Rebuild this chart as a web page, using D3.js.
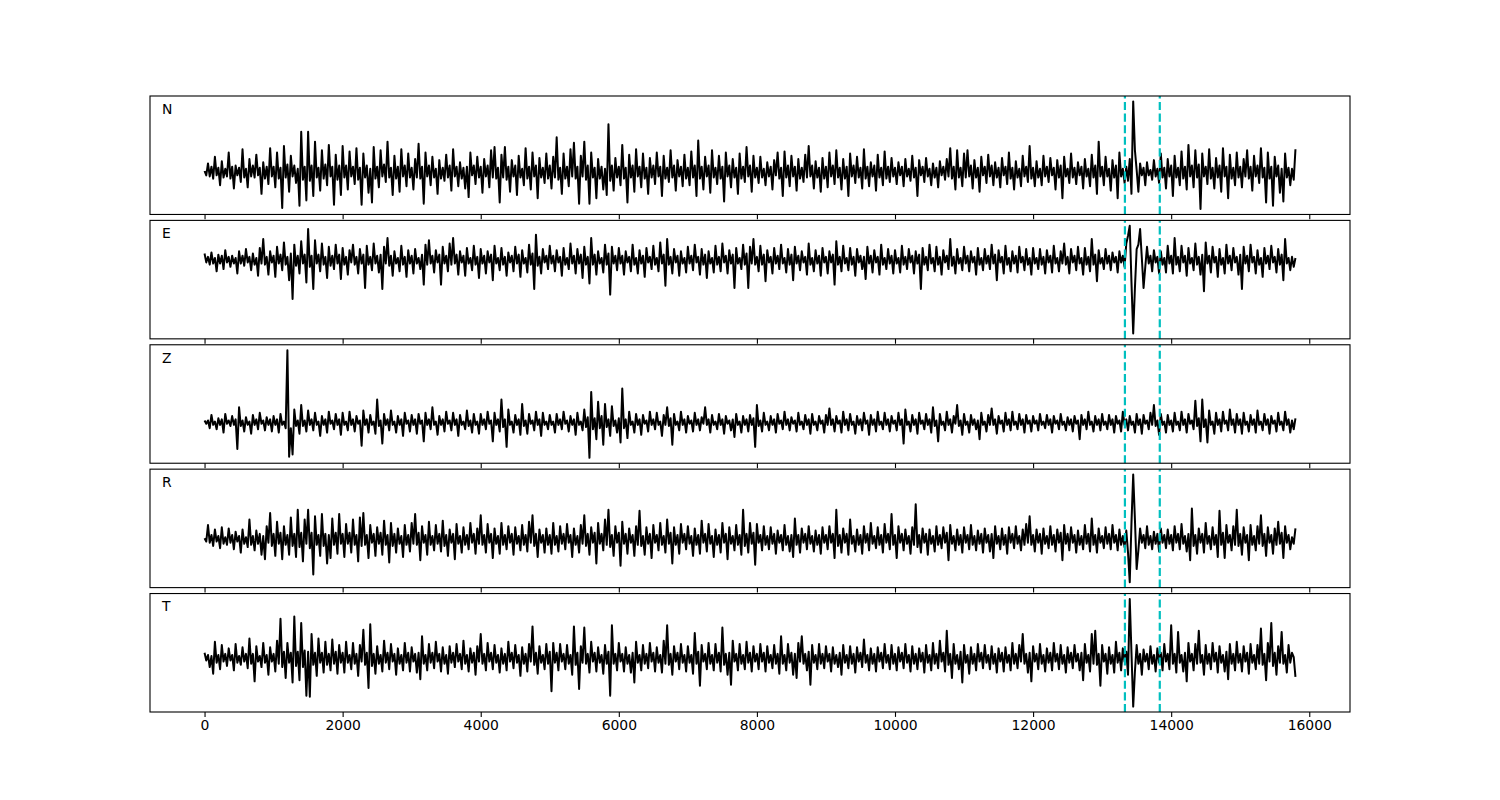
<!DOCTYPE html>
<html>
<head>
<meta charset="utf-8">
<script src="https://cdn.jsdelivr.net/npm/d3@7"></script>
<style>
  body { margin: 0; background: #fff; }
  svg { display: block; font-family: "DejaVu Sans", sans-serif; }
</style>
</head>
<body>
<svg id="svg2" width="1500" height="800"></svg>
<script>
// samples every 25 units, t = 0 .. 15800 (one row per 1000 units)
var step = 25;
var components = ["N", "E", "Z", "R", "T"];
var markers = [13330, 13835];
var xTicks = [0, 2000, 4000, 6000, 8000, 10000, 12000, 14000, 16000];

var traceN = [
  1, -3, 8, -4, 5, -6, 14, -3, 4, -12, 10, -5, 3, -4, 18, -6, 5, -15, 6, -3, 4, -9, 21, -5, 3, -14, 12, -4, 6, -5, 16, -3, 4, -20, 9, -6, 5, -11, 22, -4,
  5, -14, 18, -6, 4, -33, 24, -5, 7, -18, 15, -4, 6, -10, 3, -31, 37, -7, 5, -26, 37, -8, 6, -22, 28, -5, 4, -17, 20, -6, 7, -12, 25, -4, 5, -30, 16, -7, 6, -21,
  24, -5, 6, -16, 19, -4, 5, -11, 22, -7, 4, -30, 17, -5, 6, -19, 3, -28, 23, -6, 5, -14, 20, -4, 7, -9, 28, -5, 4, -21, 15, -6, 5, -18, 21, -4, 6, -13, 17, -5,
  4, -16, 12, -5, 26, -6, 5, -29, 18, -4, 6, -12, 14, -5, 3, -20, 11, -6, 4, -8, 16, -5, 6, -17, 21, -4, 5, -13, 9, -6, 4, -15, 5, -23, 18, -3, 6, -11, 14, -5,
  5, -19, 12, -4, 6, -14, 20, -5, 23, -6, 4, -28, 16, -5, 23, -7, 5, -18, 11, -4, 6, -21, 15, -5, 3, -12, 22, -6, 5, -16, 18, -4, 6, -24, 13, -5, 4, -10, 17, -6,
  6, -15, 14, -5, 32, -7, 4, -20, 17, -6, 5, -13, 21, -4, 27, -6, 5, -29, 15, -4, 28, -7, 6, -29, 18, -5, 4, -24, 12, -6, 5, -16, 3, -21, 44, -8, 6, -17, 13, -5,
  5, -12, 25, -6, 4, -28, 16, -5, 6, -18, 21, -4, 5, -14, 17, -6, 4, -20, 13, -5, 6, -11, 18, -4, 5, -22, 15, -6, 4, -9, 20, -5, 6, -17, 11, -4, 5, -13, 16, -6,
  4, -12, 19, -5, 6, -22, 29, -6, 5, -16, 14, -4, 6, -19, 20, -5, 4, -11, 15, -6, 5, -27, 18, -4, 6, -14, 12, -5, 4, -20, 17, -6, 5, -9, 23, -4, 6, -18, 15, -5,
  4, -10, 14, -5, 3, -12, 9, -4, 5, -16, 11, -3, 18, -6, 4, -22, 19, -5, 6, -13, 15, -4, 5, -17, 12, -6, 4, -9, 16, -5, 24, -4, 6, -15, 10, -5, 4, -18, 13, -6,
  5, -14, 18, -4, 6, -11, 20, -5, 4, -16, 12, -6, 5, -22, 17, -4, 6, -10, 14, -5, 4, -15, 21, -6, 5, -13, 9, -4, 6, -17, 16, -5, 4, -12, 19, -6, 5, -9, 13, -4,
  4, -11, 9, -3, 5, -13, 12, -4, 3, -8, 15, -5, 4, -22, 11, -3, 5, -9, 13, -4, 3, -12, 8, -5, 4, -14, 10, -3, 5, -7, 12, -4, 22, -6, 5, -16, 20, -5, 4, -13,
  17, -5, 20, -4, 6, -15, 11, -5, 4, -18, 14, -3, 5, -10, 16, -4, 6, -12, 9, -5, 4, -14, 13, -3, 5, -11, 18, -6, 4, -16, 10, -5, 3, -13, 15, -4, 5, -9, 24, -6,
  4, -13, 10, -5, 3, -12, 15, -4, 5, -9, 13, -3, 4, -16, 11, -5, 6, -24, 14, -4, 3, -10, 17, -5, 4, -11, 9, -3, 5, -15, 12, -4, 3, -13, 16, -5, 6, -20, 28, -4,
  5, -12, 14, -4, 3, -17, 11, -5, 6, -24, 18, -4, 3, -10, 5, -8, 12, -20, 65, 20, 2, -18, 8, -3, 4, -12, 9, -3, 2, -7, 11, -4, 3, -10, 17, -5, 4, -15, 12, -4,
  6, -22, 15, -5, 4, -12, 19, -6, 5, -16, 25, -4, 6, -14, 20, -5, 7, -34, 17, -4, 5, -11, 21, -6, 4, -15, 13, -5, 6, -18, 22, -4, 5, -24, 16, -6, 4, -12, 18, -5,
  5, -14, 12, -4, 20, -6, 5, -17, 15, -4, 6, -10, 22, -5, 4, -28, 18, -6, 5, -31, 14, -4, 6, -19, 3, -27, 17, -5, 4, -12, 3, -7, 21
];

var traceE = [
  6, -2, 3, -4, 7, -3, 2, -10, 5, -3, 4, -8, 9, -2, 3, -6, 4, -3, 2, -12, 8, -3, 4, -5, 10, -2, 3, -9, 6, -4, 2, -14, 11, -3, 19, -4, 3, -13, 8, -2,
  4, -15, 12, -3, 5, -9, 16, -4, 3, -18, 6, -35, 14, -5, 4, -12, 17, -3, 5, -20, 28, -6, 4, -26, 18, -3, 5, -10, 15, -4, 3, -16, 12, -5, 4, -8, 14, -3, 5, -17,
  11, -4, 3, -13, 9, -2, 14, -4, 3, -12, 10, -3, 5, -25, 13, -4, 3, -9, 15, -3, 4, -11, 5, -26, 12, -3, 20, -5, 4, -14, 8, -3, 2, -10, 13, -4, 3, -15, 9, -3,
  4, -12, 10, -3, 2, -8, 5, -22, 14, -4, 18, -3, 4, -11, 9, -2, 5, -22, 12, -3, 4, -10, 15, -4, 20, -3, 5, -13, 8, -2, 4, -14, 11, -3, 2, -9, 13, -4, 3, -16,
  10, -3, 4, -12, 8, -2, 5, -18, 13, -3, 2, -9, 11, -4, 3, -14, 7, -2, 4, -10, 12, -3, 5, -15, 9, -3, 2, -11, 14, -4, 6, -26, 23, -5, 3, -12, 10, -2, 4, -8,
  13, -3, 4, -10, 9, -2, 3, -14, 11, -4, 2, -8, 15, -3, 4, -12, 10, -3, 5, -16, 12, -4, 3, -21, 20, -4, 5, -13, 8, -3, 2, -11, 14, -4, 6, -31, 12, -3, 4, -9,
  11, -3, 4, -13, 8, -2, 3, -10, 14, -4, 2, -12, 9, -3, 4, -15, 11, -2, 3, -8, 13, -4, 2, -10, 16, -3, 5, -23, 19, -4, 3, -12, 10, -2, 4, -14, 8, -3, 2, -11,
  12, -3, 4, -9, 14, -2, 3, -13, 10, -4, 5, -16, 8, -3, 2, -11, 13, -4, 3, -10, 15, -2, 4, -12, 9, -3, 5, -25, 11, -3, 2, -8, 14, -4, 6, -25, 12, -3, 19, -4,
  3, -10, 13, -4, 5, -19, 9, -2, 3, -12, 11, -3, 4, -8, 14, -3, 2, -11, 10, -4, 5, -18, 12, -3, 4, -9, 8, -2, 3, -13, 15, -4, 2, -10, 9, -3, 4, -14, 11, -2,
  3, -12, 8, -2, 5, -22, 17, -4, 3, -10, 13, -3, 2, -9, 11, -4, 3, -14, 10, -2, 4, -8, 3, -17, 12, -3, 4, -11, 9, -2, 3, -13, 14, -4, 2, -8, 10, -3, 4, -12,
  9, -3, 2, -11, 13, -4, 3, -8, 10, -2, 4, -12, 8, -3, 5, -26, 11, -4, 3, -9, 14, -3, 2, -10, 12, -4, 3, -13, 9, -2, 4, -8, 19, -5, 3, -12, 10, -3, 2, -9,
  12, -3, 4, -10, 8, -2, 3, -13, 11, -4, 2, -9, 10, -3, 4, -8, 14, -3, 5, -18, 9, -2, 3, -12, 13, -4, 2, -10, 8, -3, 4, -11, 12, -2, 3, -9, 10, -4, 2, -13,
  11, -3, 2, -8, 10, -4, 3, -12, 9, -2, 4, -11, 13, -3, 2, -10, 8, -3, 15, -4, 3, -12, 10, -2, 4, -9, 12, -3, 2, -13, 11, -4, 3, -10, 19, -4, 5, -19, 9, -3,
  2, -8, 10, -3, 4, -9, 7, -2, 3, -11, 8, -2, 4, -6, 15, 22, 31, -20, -66, -25, 10, 14, 28, 2, -25, -6, 12, -3, 4, -10, 9, -2, 3, -12, 8, -4, 2, -11, 13, -3,
  4, -12, 20, -4, 3, -10, 13, -2, 4, -14, 11, -3, 2, -9, 15, -4, 3, -13, 5, -28, 16, -3, 4, -11, 12, -2, 3, -15, 10, -4, 2, -12, 14, -3, 4, -9, 11, -2, 3, -13,
  5, -26, 12, -3, 4, -10, 14, -2, 3, -12, 9, -4, 2, -15, 11, -3, 4, -8, 13, -2, 3, -11, 10, -4, 5, -18, 19, -3, 2, -9, 3, -6, 2
];

var traceZ = [
  2, -1, 2, -5, 7, -2, 1, -6, 4, -2, 3, -9, 8, -1, 2, -3, 6, -2, 3, -24, 14, -3, 2, -8, 5, -2, 1, -10, 7, -2, 3, -6, 9, -1, 2, -7, 5, -2, 3, -8,
  6, -2, 3, -9, 8, -2, 1, -5, 66, -31, -5, -29, 12, -3, 2, -10, 16, -3, 2, -8, 11, -2, 3, -7, 9, -2, 1, -12, 6, -2, 3, -9, 10, -1, 2, -6, 8, -2, 3, -11,
  9, -2, 1, -7, 10, -2, 3, -8, 6, -1, 2, -21, 11, -2, 3, -9, 7, -2, 1, -10, 21, -3, 2, -19, 8, -2, 3, -7, 11, -2, 1, -9, 6, -2, 3, -12, 9, -1, 2, -8,
  7, -2, 3, -10, 8, -1, 2, -17, 9, -2, 3, -6, 14, -2, 1, -11, 6, -2, 3, -8, 10, -1, 2, -7, 9, -2, 3, -12, 7, -2, 1, -6, 11, -3, 2, -9, 8, -2, 1, -10,
  8, -2, 3, -6, 10, -1, 2, -17, 9, -2, 3, -8, 21, -4, 3, -22, 12, -2, 1, -9, 7, -2, 3, -11, 17, -3, 2, -10, 8, -1, 2, -7, 10, -2, 3, -12, 9, -2, 1, -6,
  7, -2, 1, -9, 8, -2, 3, -6, 10, -1, 2, -8, 6, -2, 3, -11, 9, -2, 1, -7, 12, -4, 5, -32, 28, -6, 4, -15, 19, -5, 6, -20, 17, -4, 3, -12, 15, -3, 2, -9,
  4, -18, 31, -5, 3, -14, 10, -2, 1, -9, 8, -2, 3, -11, 7, -1, 2, -8, 10, -2, 3, -6, 9, -2, 1, -12, 7, -2, 14, -3, 4, -20, 8, -2, 1, -7, 10, -2, 3, -9,
  6, -1, 2, -8, 9, -2, 3, -7, 5, -1, 14, -2, 3, -9, 7, -2, 1, -6, 8, -2, 3, -10, 6, -1, 2, -7, 3, -13, 8, -2, 1, -9, 6, -2, 3, -8, 7, -2, 4, -22,
  16, -3, 2, -8, 9, -2, 1, -7, 6, -2, 3, -9, 8, -1, 2, -6, 10, -2, 3, -7, 5, -1, 2, -8, 9, -2, 1, -6, 7, -2, 3, -10, 8, -2, 1, -7, 6, -1, 2, -9,
  7, -2, 13, -2, 3, -8, 6, -1, 2, -9, 10, -2, 3, -7, 8, -2, 1, -10, 6, -2, 3, -7, 9, -1, 2, -11, 7, -2, 3, -8, 10, -2, 1, -6, 9, -2, 3, -8, 6, -1,
  2, -7, 9, -2, 3, -19, 12, -2, 1, -8, 7, -2, 3, -10, 9, -1, 2, -6, 8, -2, 3, -9, 14, -3, 2, -17, 8, -2, 1, -7, 10, -2, 3, -9, 6, -1, 16, -3, 2, -11,
  8, -2, 1, -9, 7, -2, 3, -6, 2, -15, 9, -2, 1, -8, 7, -2, 13, -2, 3, -10, 6, -1, 2, -8, 9, -2, 3, -7, 10, -2, 1, -6, 8, -2, 3, -9, 7, -1, 2, -8,
  6, -1, 2, -7, 8, -2, 1, -5, 7, -2, 3, -9, 6, -1, 2, -6, 8, -2, 1, -7, 5, -2, 3, -8, 6, -1, 2, -15, 7, -2, 3, -6, 10, -2, 1, -8, 6, -2, 3, -7,
  8, -2, 1, -6, 7, -2, 3, -9, 6, -1, 2, -8, 10, -2, 3, -7, 6, -2, 1, -9, 8, -2, 3, -10, 7, -1, 2, -6, 9, -2, 16, -3, 2, -11, 8, -2, 1, -9, 7, -2,
  2, -8, 9, -2, 1, -7, 10, -2, 3, -9, 8, -1, 2, -6, 20, -3, 4, -17, 21, -4, 3, -18, 11, -2, 1, -10, 9, -2, 3, -8, 10, -1, 2, -7, 12, -2, 3, -9, 8, -2,
  3, -10, 9, -2, 1, -8, 7, -2, 3, -9, 11, -2, 1, -7, 8, -2, 3, -10, 6, -1, 2, -8, 9, -2, 1, -7, 10, -2, 3, -9, 2, -6, 4
];

var traceR = [
  1, -2, 13, -3, 4, -6, 9, -2, 3, -8, 11, -4, 2, -5, 10, -3, 4, -9, 7, -2, 3, -12, 9, -4, 2, -7, 18, -5, 3, -10, 8, -4, 5, -14, 3, -18, 12, -3, 24, -6,
  5, -15, 16, -4, 6, -18, 12, -5, 4, -14, 20, -6, 5, -16, 27, -7, 6, -20, 18, -4, 27, -8, 6, -32, 21, -5, 4, -15, 23, -6, 5, -22, 4, -17, 19, -5, 6, -13, 23, -4,
  5, -16, 14, -4, 6, -12, 18, -5, 4, -20, 20, -6, 24, -5, 4, -17, 13, -3, 5, -15, 11, -4, 6, -14, 17, -5, 4, -21, 15, -6, 5, -12, 10, -4, 3, -16, 13, -5, 4, -11,
  15, -4, 23, -5, 6, -19, 12, -3, 4, -14, 16, -5, 3, -10, 13, -4, 5, -11, 17, -6, 4, -15, 9, -3, 5, -18, 14, -4, 3, -12, 11, -5, 4, -9, 15, -3, 5, -13, 10, -4,
  22, -5, 4, -12, 14, -3, 5, -17, 10, -4, 3, -13, 15, -5, 4, -9, 12, -3, 5, -14, 11, -4, 3, -10, 13, -5, 4, -11, 16, -3, 22, -6, 5, -16, 9, -3, 4, -12, 10, -5,
  4, -13, 15, -5, 3, -11, 12, -4, 5, -9, 14, -3, 4, -16, 10, -5, 3, -12, 13, -4, 22, -6, 5, -14, 11, -3, 6, -22, 15, -4, 5, -10, 18, -5, 27, -7, 4, -15, 12, -3,
  6, -24, 16, -4, 5, -13, 10, -3, 4, -15, 12, -5, 26, -6, 3, -14, 11, -4, 5, -17, 13, -3, 4, -10, 15, -5, 3, -12, 18, -4, 6, -22, 11, -5, 4, -13, 14, -3, 5, -9,
  12, -4, 3, -15, 10, -5, 4, -13, 17, -3, 5, -11, 14, -4, 3, -16, 9, -5, 4, -12, 15, -3, 5, -18, 11, -4, 3, -10, 13, -5, 4, -14, 27, -6, 5, -12, 15, -4, 6, -23,
  14, -3, 4, -10, 12, -5, 3, -9, 11, -4, 5, -13, 8, -3, 4, -10, 13, -5, 3, -11, 4, -16, 19, -5, 4, -12, 10, -3, 5, -9, 12, -4, 3, -11, 8, -5, 4, -13, 11, -3,
  4, -9, 12, -3, 5, -17, 27, -6, 4, -12, 10, -3, 5, -14, 18, -4, 3, -11, 9, -5, 4, -13, 12, -3, 5, -10, 15, -4, 3, -8, 11, -5, 4, -12, 14, -3, 5, -9, 23, -5,
  4, -17, 12, -3, 5, -10, 9, -4, 3, -13, 11, -5, 32, -7, 4, -12, 10, -3, 5, -14, 9, -4, 3, -11, 12, -5, 4, -8, 11, -3, 6, -19, 13, -4, 3, -10, 9, -5, 4, -12,
  11, -3, 4, -9, 13, -5, 3, -10, 8, -4, 5, -12, 10, -3, 4, -11, 5, -17, 12, -4, 3, -9, 10, -5, 4, -13, 11, -3, 5, -8, 12, -4, 3, -10, 9, -5, 14, -3, 21, -5,
  4, -11, 9, -3, 5, -13, 10, -4, 3, -8, 12, -5, 4, -11, 9, -3, 6, -19, 13, -4, 5, -10, 11, -3, 4, -12, 8, -5, 3, -9, 13, -4, 5, -11, 19, -5, 4, -12, 10, -3,
  3, -8, 11, -4, 5, -9, 13, -3, 4, -10, 9, -5, 3, -7, 8, -12, -39, 15, 59, 18, -27, -10, 10, -3, 4, -8, 12, -5, 3, -9, 7, -4, 5, -11, 10, -3, 4, -8, 9, -4,
  4, -10, 12, -3, 5, -9, 14, -4, 3, -11, 5, -19, 28, -6, 4, -13, 10, -3, 5, -12, 15, -4, 3, -9, 11, -5, 4, -16, 26, -5, 6, -17, 13, -3, 4, -10, 12, -5, 27, -6,
  5, -14, 11, -3, 4, -19, 13, -5, 3, -10, 12, -4, 22, -6, 5, -15, 11, -3, 4, -13, 10, -5, 16, -4, 6, -17, 12, -3, 4, -9, 2, -4, 10
];

var traceT = [
  5, -2, 3, -8, 2, -14, 15, -4, 3, -10, 12, -3, 4, -7, 9, -2, 3, -11, 13, -4, 2, -6, 10, -3, 4, -9, 18, -5, 4, -21, 11, -3, 2, -8, 14, -4, 3, -15, 10, -3,
  4, -12, 16, -5, 36, -8, 6, -18, 14, -4, 5, -22, 38, -7, 6, -20, 32, -8, 7, -34, 6, -35, 22, -6, 5, -16, 18, -4, 5, -13, 15, -6, 4, -11, 17, -5, 6, -14, 12, -4,
  5, -13, 15, -4, 3, -10, 14, -5, 4, -16, 12, -3, 26, -6, 5, -27, 31, -7, 4, -14, 11, -5, 3, -12, 16, -4, 5, -10, 13, -3, 4, -15, 9, -5, 3, -11, 14, -4, 5, -12,
  10, -3, 4, -13, 5, -19, 20, -5, 3, -11, 13, -4, 5, -9, 15, -3, 4, -12, 10, -5, 3, -14, 11, -4, 5, -8, 13, -3, 4, -10, 16, -5, 3, -12, 9, -4, 5, -15, 11, -3,
  22, -5, 4, -11, 14, -3, 5, -10, 12, -4, 3, -13, 9, -5, 4, -11, 15, -3, 5, -9, 12, -4, 3, -16, 10, -5, 4, -12, 13, -3, 29, -6, 5, -14, 11, -4, 3, -10, 13, -5,
  6, -30, 14, -4, 5, -11, 13, -3, 4, -10, 12, -5, 3, -15, 29, -6, 5, -28, 11, -4, 28, -5, 4, -13, 15, -3, 5, -12, 10, -4, 3, -14, 12, -5, 6, -34, 30, -5, 4, -11,
  14, -3, 4, -12, 10, -5, 3, -13, 5, -22, 15, -4, 3, -11, 12, -5, 4, -9, 14, -3, 5, -12, 10, -4, 3, -13, 16, -5, 30, -6, 4, -15, 11, -3, 5, -10, 13, -4, 3, -12,
  11, -4, 3, -14, 23, -5, 6, -25, 12, -3, 4, -10, 14, -5, 3, -11, 13, -4, 5, -12, 28, -6, 4, -15, 5, -24, 16, -3, 4, -11, 13, -5, 3, -10, 15, -4, 5, -12, 11, -3,
  4, -10, 13, -3, 5, -12, 11, -4, 3, -9, 12, -5, 4, -14, 20, -5, 3, -11, 13, -4, 5, -15, 4, -18, 14, -3, 20, -5, 4, -11, 6, -24, 12, -4, 3, -10, 13, -5, 4, -9,
  11, -3, 4, -12, 10, -5, 3, -8, 5, -15, 12, -4, 3, -9, 11, -5, 4, -13, 10, -3, 5, -8, 17, -4, 3, -11, 9, -5, 4, -12, 10, -3, 5, -9, 13, -4, 3, -10, 12, -5,
  4, -11, 10, -3, 5, -9, 13, -4, 3, -12, 11, -5, 4, -10, 9, -3, 5, -13, 12, -4, 3, -11, 14, -5, 4, -9, 16, -3, 5, -12, 25, -6, 4, -18, 13, -5, 3, -10, 6, -22,
  12, -4, 3, -14, 10, -5, 4, -11, 13, -3, 5, -9, 12, -4, 3, -10, 11, -5, 4, -13, 9, -3, 5, -12, 10, -4, 3, -11, 14, -5, 4, -9, 12, -3, 22, -5, 4, -13, 5, -21,
  11, -3, 4, -10, 13, -5, 3, -12, 9, -4, 5, -11, 14, -3, 4, -10, 12, -5, 3, -13, 10, -4, 5, -9, 12, -3, 4, -11, 5, -20, 13, -4, 3, -12, 22, -5, 25, -6, 4, -25,
  12, -3, 4, -14, 10, -5, 3, -13, 15, -4, 5, -11, 9, -3, 6, -15, 54, 5, -44, -12, 12, -5, 4, -15, 8, -3, 4, -10, 11, -5, 3, -12, 9, -4, 5, -11, 13, -3, 4, -10,
  30, -5, 4, -13, 24, -4, 3, -12, 5, -21, 14, -3, 4, -11, 13, -5, 25, -4, 3, -15, 12, -5, 4, -10, 14, -3, 5, -13, 11, -4, 3, -12, 6, -19, 13, -5, 4, -11, 15, -4,
  4, -12, 11, -3, 5, -14, 13, -4, 3, -10, 12, -5, 27, -6, 4, -20, 14, -3, 32, -7, 5, -15, 11, -4, 24, -5, 3, -13, 12, -4, 5, 1, -17
];

var traces = [traceN, traceE, traceZ, traceR, traceT];

d3.select(window).on('load', init);

function init() {

    var svg = d3.select('#svg2');
    var W = 1500, H = 800;
    var left = 0.1 * W, right = 0.9 * W;
    var top = 0.12 * H, bottom = 0.89 * H;
    var nPanels = components.length;
    var hspace = 0.05;
    var ph = (bottom - top) / (nPanels + (nPanels - 1) * hspace);
    var gap = ph * hspace;

    var lengths = traces.map(function(a) { return a.length; });
    if (lengths.some(function(n) { return n !== lengths[0]; })) {
        throw new Error("trace lengths differ: " + lengths.join(","));
    }

    //shared x axis, 5% margins like matplotlib
    var tMax = (traceN.length - 1) * step;
    var xPad = 0.05 * tMax;
    var x = d3.scaleLinear()
              .domain([ -xPad, tMax + xPad ])
              .range([ left, right ]);

    components.forEach(function(name, k) {
        var data = traces[k];
        var y0 = top + k * (ph + gap);
        var yMin = d3.min(data), yMax = d3.max(data);
        var yPad = 0.05 * (yMax - yMin);
        var y = d3.scaleLinear()
                  .domain([ yMin - yPad, yMax + yPad ])
                  .range([ y0 + ph, y0 ]);

        var panel = svg.append("g")
                       .attr("class", "panel");

        var line = d3.line()
                     .x(function(d, i) { return x(i * step); })
                     .y(function(d) { return y(d); });

        panel.append("path")
            .datum(data)
            .attr("d", line)
            .attr("fill", "none")
            .attr("stroke", "black")
            .attr("stroke-width", 2)
            .attr("stroke-linejoin", "round");

        //pick markers
        panel.selectAll("line.marker")
            .data(markers)
            .enter()
            .append("line")
            .attr("class", "marker")
            .attr("x1", function(d) { return x(d); })
            .attr("x2", function(d) { return x(d); })
            .attr("y1", y0 + ph)
            .attr("y2", y0)
            .attr("stroke", "#00bfbf")
            .attr("stroke-width", 2.2)
            .attr("stroke-dasharray", "8.1,3.5");

        //frame
        panel.append("rect")
            .attr("x", left)
            .attr("y", y0)
            .attr("width", right - left)
            .attr("height", ph)
            .attr("fill", "none")
            .attr("stroke", "black")
            .attr("stroke-width", 1.1);

        var axis = d3.axisBottom(x)
                     .tickValues(xTicks)
                     .tickSize(4.9)
                     .tickPadding(3.5)
                     .tickFormat(k === nPanels - 1 ? d3.format("d") : function() { return ""; });

        var gAxis = panel.append("g")
                         .attr("transform", "translate(0," + (y0 + ph) + ")")
                         .call(axis);
        gAxis.select(".domain").remove();
        gAxis.selectAll(".tick line")
             .attr("stroke", "black")
             .attr("stroke-width", 1.1);
        gAxis.selectAll(".tick text")
             .attr("fill", "black")
             .style("font-size", "13.9px")
             .style("font-family", "DejaVu Sans");

        panel.append("text")
            .attr("x", left + 0.01 * (right - left))
            .attr("y", y0 + 0.15 * ph)
            .style("font-size", "13.9px")
            .style("font-family", "DejaVu Sans")
            .attr("fill", "black")
            .text(name);
    });
}
</script>
</body>
</html>
